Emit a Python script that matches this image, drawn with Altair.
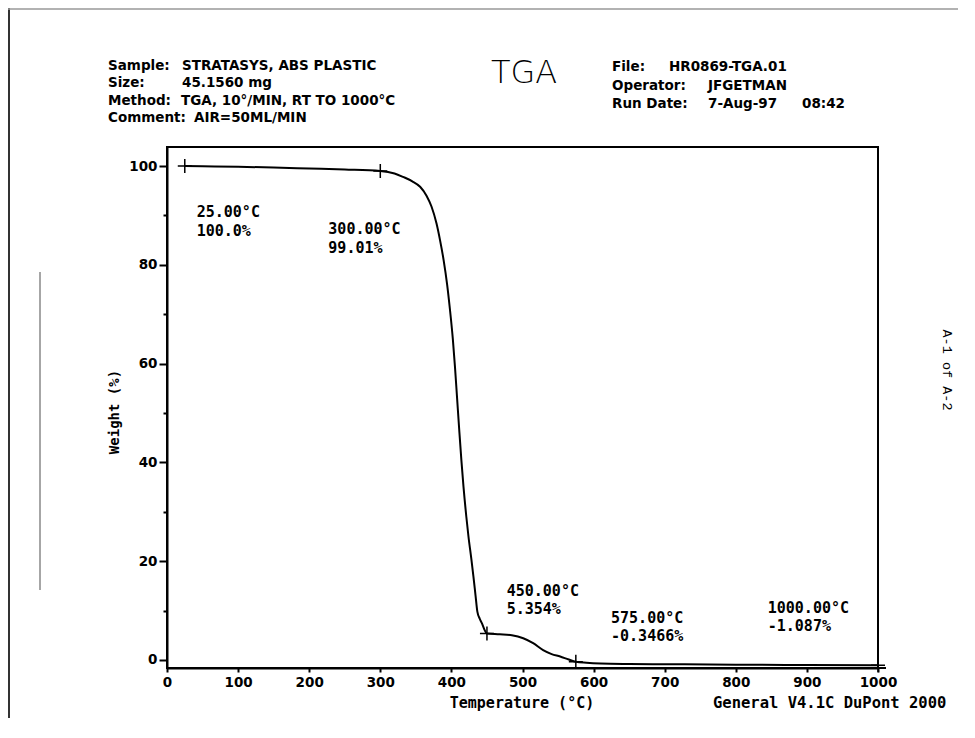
import altair as alt
import pandas as pd

# ---- data ----
temps = [25, 50, 100, 150, 200, 250, 300, 320, 332, 345, 356, 365, 372, 379, 384,
         389, 394, 398, 402, 405, 408, 411, 414, 417, 421, 424, 428, 431, 434, 436.5,
         440, 443, 446, 450, 468, 485, 501, 515, 529, 541, 553, 565, 575, 590, 610,
         650, 700, 800, 900, 1000]
weights = [100.0, 99.95, 99.85, 99.7, 99.5, 99.3, 99.01, 98.5, 97.8, 96.9, 95.8, 94.0,
           91.8, 88.4, 85.0, 81.0, 76.0, 70.9, 65.0, 59.4, 53.0, 46.6, 40.5, 35.1, 29.0,
           25.0, 20.5, 16.9, 13.0, 9.8, 8.3, 7.4, 6.3, 5.354, 5.2, 5.0, 4.4, 3.4, 2.0,
           1.2, 0.7, 0.1, -0.3466, -0.55, -0.7, -0.8, -0.85, -0.95, -1.02, -1.087]

mark_temps = [25, 300, 450, 575, 1000]
mark_weights = [100.0, 99.01, 5.354, -0.3466, -1.087]
mark_temp_labels = ["25.00°C", "300.00°C", "450.00°C", "575.00°C", "1000.00°C"]
mark_weight_labels = ["100.0%", "99.01%", "5.354%", "-0.3466%", "-1.087%"]
label_temp = [41.8, 226.9, 477.8, 624.5, 844.9]
label_w1 = [90.6, 87.2, 14.0, 8.6, 10.5]
label_w2 = [86.8, 83.5, 10.3, 4.9, 6.9]

x_ticks = list(range(0, 1001, 50))
y_ticks = list(range(0, 101, 10))

header_left_labels = ["Sample:", "Size:", "Method:", "Comment:"]
header_left_values = ["STRATASYS,  ABS PLASTIC", "45.1560 mg", "TGA, 10°/MIN,  RT TO 1000°C", "AIR=50ML/MIN"]
header_right_labels = ["File:", "Operator:", "Run Date:"]
header_right_values = ["HR0869-TGA.01", "JFGETMAN", "7-Aug-97"]
run_time = "08:42"

# ---- layout (page pixels) ----
PL, PT = 167, 147          # plot origin on page
W, H = 711, 521

def rx(px):
    return px - PL

def ry(py):
    return py - PT

curve = pd.DataFrame({"T": temps, "W": weights})
marks = pd.DataFrame({"T": mark_temps, "W": mark_weights,
                      "tl": mark_temp_labels, "wl": mark_weight_labels,
                      "lx": label_temp, "ly1": label_w1, "ly2": label_w2})
one = pd.DataFrame({"a": [0]})

xs = alt.Scale(domain=[0, 1000], nice=False, zero=False)
ys = alt.Scale(domain=[-1.62, 103.85], nice=False, zero=False)

BOLD = "DejaVu Sans"
MONO = "DejaVu Sans Mono"

line = alt.Chart(curve).mark_line(color="black", strokeWidth=2, interpolate="monotone").encode(
    x=alt.X("T:Q", scale=xs, axis=alt.Axis(
        values=x_ticks, title=None, orient="bottom", format="d",
        labelExpr="datum.value % 100 == 0 ? datum.label : ''",
        labelFont=BOLD, labelFontWeight="bold", labelFontSize=13.5, labelColor="black",
        tickSize=4, tickWidth=2, tickColor="black", domainColor="black", domainWidth=2,
        labelPadding=3, grid=False, labelFlush=False, labelOverlap=False)),
    y=alt.Y("W:Q", scale=ys, axis=alt.Axis(
        values=y_ticks, title=None, orient="left", format="d",
        labelExpr="datum.value % 20 == 0 ? datum.label : ''",
        labelFont=BOLD, labelFontWeight="bold", labelFontSize=13.5, labelColor="black",
        tickSize={"expr": "datum.value % 20 == 0 ? 8 : 4"}, tickWidth=2, tickColor="black",
        domainColor="black", domainWidth=2, labelPadding=2, grid=False, labelOverlap=False)),
)

crosses = alt.Chart(marks).mark_point(
    shape="M-1,0L1,0M0,-1L0,1", size=196, filled=False, color="black", strokeWidth=1.5, opacity=1
).encode(x=alt.X("T:Q", scale=xs), y=alt.Y("W:Q", scale=ys))

ann1 = alt.Chart(marks).mark_text(font=MONO, fontWeight="bold", fontSize=15, align="left",
                                  baseline="middle", color="black").encode(
    x=alt.X("lx:Q", scale=xs), y=alt.Y("ly1:Q", scale=ys), text="tl:N")
ann2 = alt.Chart(marks).mark_text(font=MONO, fontWeight="bold", fontSize=15, align="left",
                                  baseline="middle", color="black").encode(
    x=alt.X("lx:Q", scale=xs), y=alt.Y("ly2:Q", scale=ys), text="wl:N")

layers = [line, crosses, ann1, ann2]


def txt(t, px, py, font=BOLD, size=13.5, weight="bold", align="left", angle=0, color="black"):
    kw = dict(text=t, font=font, fontSize=size, fontWeight=weight, align=align,
              baseline="middle", color=color)
    if angle:
        kw["angle"] = angle
    return alt.Chart(one).mark_text(**kw).encode(x=alt.value(rx(px)), y=alt.value(ry(py)))


left_rows_y = [66, 83, 101, 118]
left_vals_x = [182, 182, 181, 194]
for lab, val, yy, vx in zip(header_left_labels, header_left_values, left_rows_y, left_vals_x):
    layers.append(txt(lab, 108, yy))
    layers.append(txt(val, vx, yy))

right_rows_y = [67, 85.5, 104]
right_vals_x = [669, 708, 708]
for lab, val, yy, vx in zip(header_right_labels, header_right_values, right_rows_y, right_vals_x):
    layers.append(txt(lab, 612, yy))
    layers.append(txt(val, vx, yy))
layers.append(txt(run_time, 802, 104))

layers.append(txt("TGA", 524, 73, font="DejaVu Sans", size=32, weight=200, align="center"))
layers.append(txt("Temperature  (°C)", 522, 703, font=MONO, size=15, align="center"))
layers.append(txt("General V4.1C DuPont 2000", 713, 703, font=MONO, size=15.5))
layers.append(txt("Weight  (%)", 115, 412, font=MONO, size=14, align="center", angle=270))
layers.append(txt("A-1 of A-2", 947, 370, font="Liberation Mono", size=13.5, weight="normal",
                  align="center", angle=90))

# axis line extension past 1000 and page/scan lines
layers.append(alt.Chart(one).mark_rule(color="black", strokeWidth=2).encode(
    x=alt.value(W), x2=alt.value(W + 8), y=alt.value(H)))
layers.append(alt.Chart(one).mark_rule(color="#333333", strokeWidth=2).encode(
    x=alt.value(rx(9)), y=alt.value(ry(8)), y2=alt.value(ry(738))))
layers.append(alt.Chart(one).mark_rule(color="#999999", strokeWidth=1.5).encode(
    x=alt.value(rx(8)), x2=alt.value(rx(975)), y=alt.value(ry(9))))
layers.append(alt.Chart(one).mark_rule(color="#888888", strokeWidth=1.5).encode(
    x=alt.value(rx(40)), y=alt.value(ry(272)), y2=alt.value(ry(590))))

chart = alt.layer(*layers).properties(
    width=W, height=H,
    padding={"left": PL - 8, "top": PT - 8, "right": 80, "bottom": 50},
    autosize=alt.AutoSizeParams(type="none"),
    background="white",
).configure_view(stroke="black", strokeWidth=2)

chart.save("out.html", embed_options={"renderer": "svg", "actions": False})
